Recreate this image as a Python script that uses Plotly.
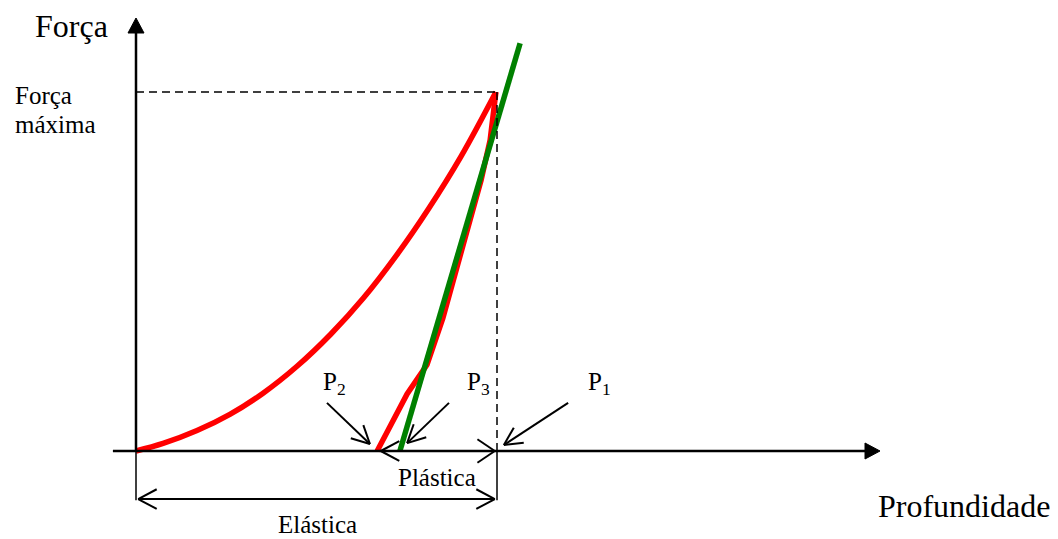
import numpy as np
import plotly.graph_objects as go

# ---------------- data (normalised: depth h with P1 = 1, force F with Fmax = 1) -------------
load_h = [0.0, 0.075, 0.169, 0.260, 0.352, 0.446, 0.540, 0.630, 0.723, 0.810, 0.900, 0.997]
load_F = [0.0, 0.021, 0.057, 0.102, 0.161, 0.236, 0.326, 0.426, 0.547, 0.674, 0.820, 1.0]

unload_h = [0.997, 0.981, 0.956, 0.917, 0.886, 0.850, 0.806, 0.778, 0.751, 0.668]
unload_F = [1.0, 0.866, 0.755, 0.616, 0.504, 0.370, 0.240, 0.198, 0.159, 0.0]

tangent_h = [0.731, 1.064]
tangent_F = [0.0, 1.136]

h_max = 1.0          # P1
F_max = 1.0          # Força máxima
h_plastic = 0.668    # P2

axis_h = [-0.064, 2.062]
axis_F = [-0.137, 1.205]
dim_F = -0.134       # level of the "Elástica" dimension line

# point-arrows (tail -> tip)
arrow_labels = ["P<sub>2</sub>", "P<sub>3</sub>", "P<sub>1</sub>"]
arrow_tail_h = [0.529, 0.867, 1.197]
arrow_tail_F = [0.134, 0.134, 0.134]
arrow_tip_h = [0.648, 0.751, 1.019]
arrow_tip_F = [0.0195, 0.022, 0.0167]
label_h = [0.551, 0.950, 1.283]
label_F = [0.189, 0.189, 0.189]

# ---------------- pixel mapping helpers (page pixels) ----------------
PAGE_W, PAGE_H = 1058, 539
OFF = 8                      # default body margin of the page
W, H = PAGE_W - OFF, PAGE_H - OFF
X0, Y0, SX, SY = 136.0, 451.0, 361.0, 359.0
xr = [(OFF - X0) / SX, (OFF + W - X0) / SX]
yr = [(Y0 - (OFF + H)) / SY, (Y0 - OFF) / SY]


def to_px(h, F):
    return X0 + SX * h, Y0 - SY * F


def to_data(px, py):
    return (px - X0) / SX, (Y0 - py) / SY


fig = go.Figure()
shapes = []
annotations = []


def line(h0, F0, h1, F1, width=2.0, color="black", dash="solid"):
    shapes.append(dict(type="line", xref="x", yref="y", x0=h0, y0=F0, x1=h1, y1=F1,
                       line=dict(color=color, width=width, dash=dash), layer="above"))


def open_head(h_tail, F_tail, h_tip, F_tip, length=20, half_angle=28, width=2.0):
    tx, ty = to_px(h_tail, F_tail)
    px, py = to_px(h_tip, F_tip)
    d = np.array([tx - px, ty - py])
    d = d / np.linalg.norm(d)
    for sgn in (1, -1):
        a = np.radians(half_angle) * sgn
        r = np.array([d[0] * np.cos(a) - d[1] * np.sin(a), d[0] * np.sin(a) + d[1] * np.cos(a)])
        ex, ey = px + length * r[0], py + length * r[1]
        eh, eF = to_data(ex, ey)
        line(h_tip, F_tip, eh, eF, width=width)


def filled_head(h_tip, F_tip, direction, length=15, half=8):
    px, py = to_px(h_tip, F_tip)
    if direction == "right":
        pts = [(px, py), (px - length, py - half), (px - length, py + half)]
    else:  # up
        pts = [(px, py), (px - half, py + length), (px + half, py + length)]
    dp = [to_data(a, b) for a, b in pts]
    path = "M {} {} L {} {} L {} {} Z".format(*[v for p in dp for v in p])
    shapes.append(dict(type="path", xref="x", yref="y", path=path,
                       fillcolor="black", line=dict(color="black", width=1), layer="above"))


# ---------------- curves ----------------
fig.add_trace(go.Scatter(x=load_h, y=load_F, mode="lines",
                         line=dict(color="#ff0000", width=5.5, shape="spline", smoothing=1.0),
                         hoverinfo="skip", showlegend=False))
fig.add_trace(go.Scatter(x=unload_h, y=unload_F, mode="lines",
                         line=dict(color="#ff0000", width=5.5),
                         hoverinfo="skip", showlegend=False))
fig.add_trace(go.Scatter(x=tangent_h, y=tangent_F, mode="lines",
                         line=dict(color="#008000", width=5.5),
                         hoverinfo="skip", showlegend=False))

# ---------------- axes ----------------
ax_tip_x, _ = to_data(880, Y0)
ax_base_x, _ = to_data(865, Y0)
line(axis_h[0], 0, ax_base_x, 0, width=2.5)
filled_head(ax_tip_x, 0, "right")
_, ay_tip = to_data(X0, 18)
_, ay_base = to_data(X0, 33)
line(0, 0, 0, ay_base, width=2.5)
filled_head(0, ay_tip, "up")
line(0, axis_F[0], 0, 0, width=1.5)

# dashed guides
line(0, F_max, h_max, F_max, width=1.5, dash="8px,5px")
line(h_max, F_max, h_max, 0, width=1.5, dash="8px,5px")
line(h_max, 0, h_max, axis_F[0], width=1.5)

# dimension arrows
line(0.006, dim_F, h_max - 0.006, dim_F, width=2.0)
open_head(h_max, dim_F, 0.006, dim_F, length=21, half_angle=28)
open_head(0.0, dim_F, h_max - 0.006, dim_F, length=21, half_angle=28)
open_head(h_max, 0, h_plastic + 0.01, 0, length=21, half_angle=28)
open_head(h_plastic, 0, h_max - 0.006, 0, length=21, half_angle=34)

# point arrows
for i in range(3):
    line(arrow_tail_h[i], arrow_tail_F[i], arrow_tip_h[i], arrow_tip_F[i], width=2.0)
    open_head(arrow_tail_h[i], arrow_tail_F[i], arrow_tip_h[i], arrow_tip_F[i], length=20, half_angle=27)
    annotations.append(dict(x=label_h[i], y=label_F[i], xref="x", yref="y", text=arrow_labels[i],
                            showarrow=False, xanchor="center", yanchor="middle",
                            font=dict(size=25, family="Liberation Serif", color="black")))


# ---------------- texts ----------------
def text(h, F, s, size=25, xanchor="center"):
    annotations.append(dict(x=h, y=F, xref="x", yref="y", text=s, showarrow=False,
                            xanchor=xanchor, yanchor="middle",
                            font=dict(size=size, family="Liberation Serif", color="black")))


text(*to_data(71, 26), "Força", size=32)
text(*to_data(13, 95.5), "Força", size=25, xanchor="left")
text(*to_data(13, 124.5), "máxima", size=25, xanchor="left")
text(*to_data(876, 506), "Profundidade", size=32, xanchor="left")
text(*to_data(317, 524), "Elástica", size=25)
text(*to_data(437, 477), "Plástica", size=25)

fig.update_layout(
    width=W, height=H,
    margin=dict(l=0, r=0, t=0, b=0),
    paper_bgcolor="white", plot_bgcolor="white",
    font=dict(family="Liberation Serif", color="black", size=25),
    xaxis=dict(range=xr, visible=False, fixedrange=True),
    yaxis=dict(range=yr, visible=False, fixedrange=True),
    shapes=shapes, annotations=annotations,
    showlegend=False,
)

fig.write_html("out.html")
